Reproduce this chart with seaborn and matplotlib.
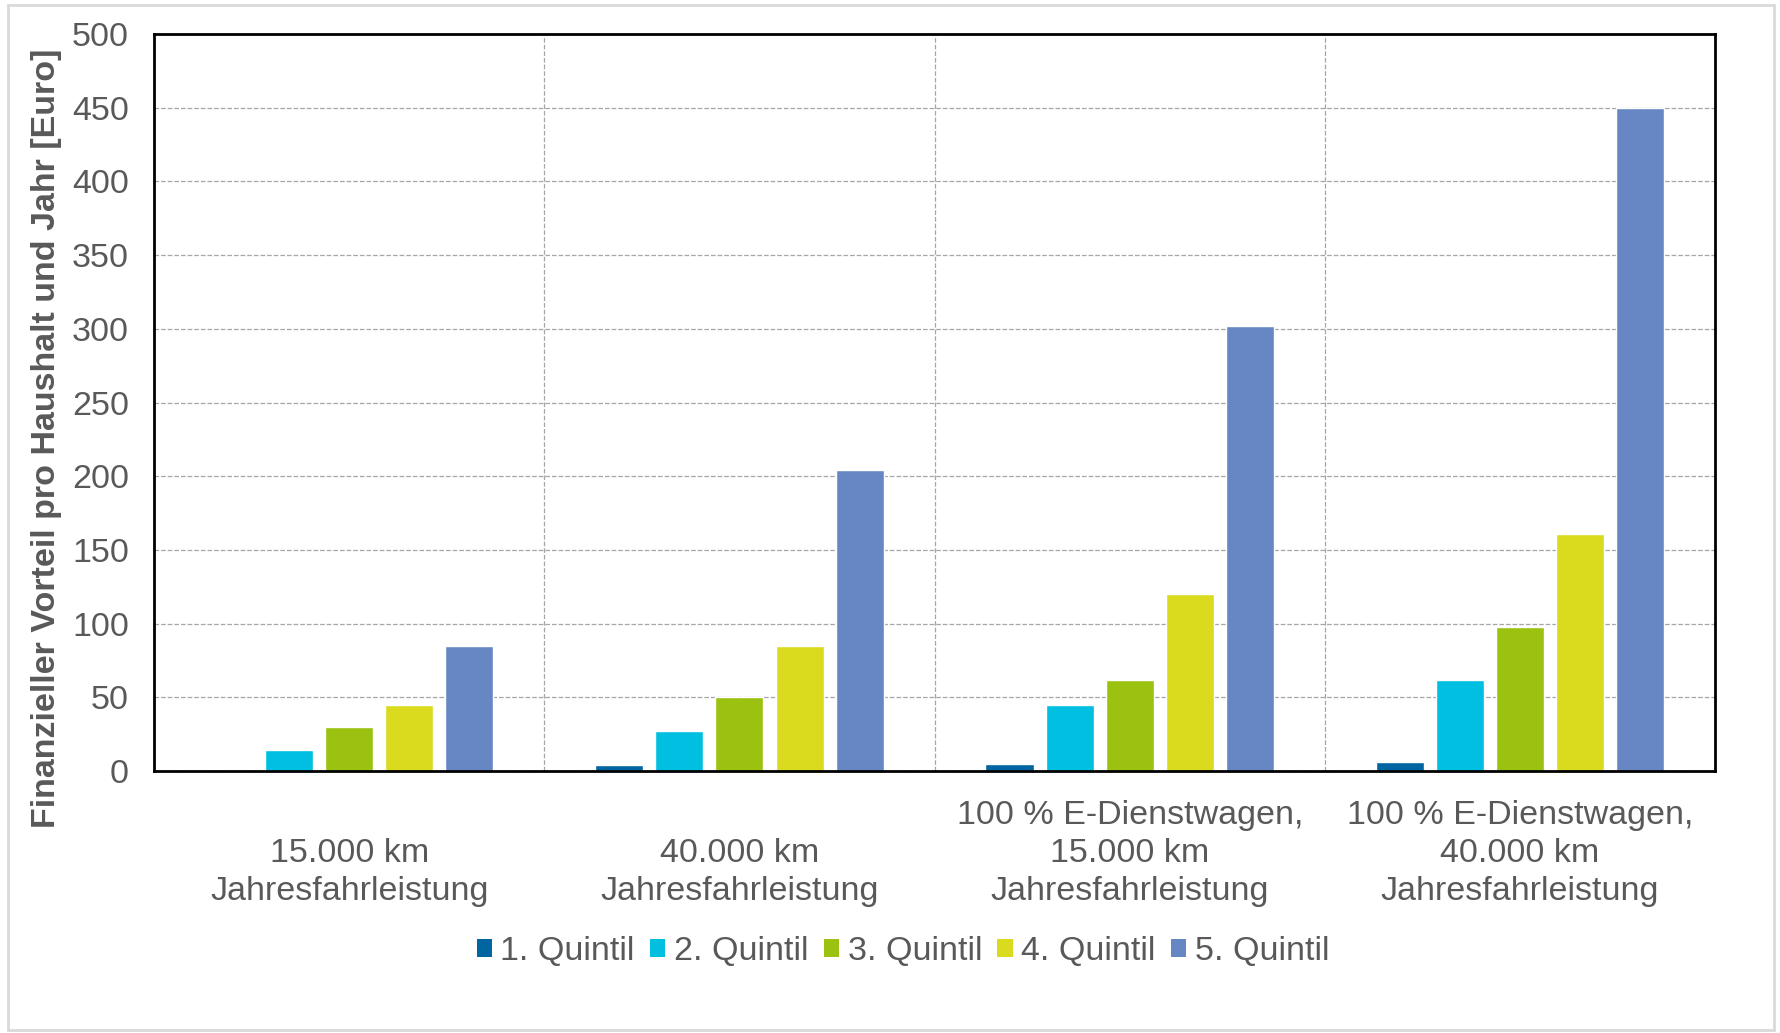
import pandas as pd
import matplotlib.pyplot as plt
import seaborn as sns
from matplotlib.patches import Patch, Rectangle

# Daten
szenarien = ["15.000 km\nJahresfahrleistung",
             "40.000 km\nJahresfahrleistung",
             "100 % E-Dienstwagen,\n15.000 km\nJahresfahrleistung",
             "100 % E-Dienstwagen,\n40.000 km\nJahresfahrleistung"]
quintile = ["1. Quintil", "2. Quintil", "3. Quintil", "4. Quintil", "5. Quintil"]
q1 = [0, 4, 5, 6]
q2 = [14, 27, 45, 62]
q3 = [30, 50, 62, 98]
q4 = [45, 85, 120, 161]
q5 = [85, 204, 302, 450]
farben = ["#0065A0", "#00BFE0", "#9BC210", "#DADA1E", "#6787C4"]

rows = []
for q, werte in zip(quintile, [q1, q2, q3, q4, q5]):
    for s, v in zip(szenarien, werte):
        rows.append({"Szenario": s, "Quintil": q, "Wert": v})
df = pd.DataFrame(rows)

sns.set_theme(style="white")
plt.rcParams["font.family"] = ["Liberation Sans", "DejaVu Sans"]
grau = "#595959"
fs = 24.5

fig = plt.figure(figsize=(17.81, 10.33), dpi=100)
ax = fig.add_axes([0.0865, 0.2537, 0.8765, 0.7133])

sns.barplot(data=df, x="Szenario", y="Wert", hue="Quintil", order=szenarien,
            hue_order=quintile, palette=farben, width=0.77, gap=0.2,
            saturation=1, legend=False, ax=ax)

ax.set_ylim(0, 500)
ax.set_xlim(-0.5, 3.5)
ax.set_yticks(range(0, 501, 50))
ax.set_xticks([0.5, 1.5, 2.5], minor=True)
ax.grid(axis="y", which="major", linestyle="--", color="#A6A6A6", linewidth=0.9)
ax.grid(axis="x", which="minor", linestyle="--", color="#A6A6A6", linewidth=0.9)
ax.grid(axis="x", which="major", visible=False)
ax.set_axisbelow(True)
for sp in ax.spines.values():
    sp.set_color("black")
    sp.set_linewidth(2)

# zweizeilige Labels unten bündig
labels = [("\n" + s) if s.count("\n") == 1 else s for s in szenarien]
ax.set_xticks(range(4))
ax.set_xticklabels(labels, fontsize=fs, color=grau, linespacing=1.3)
ax.tick_params(axis="x", which="both", length=0, pad=21)
ax.tick_params(axis="y", length=0, pad=18, labelsize=fs, labelcolor=grau)

ax.set_xlabel("")
ax.set_ylabel("Finanzieller Vorteil pro Haushalt und Jahr [Euro]", fontsize=fs,
              fontweight="bold", color=grau)
ax.yaxis.set_label_coords(-0.059, 0.451)

handles = [Patch(facecolor=c, edgecolor="none") for c in farben]
fig.legend(handles, quintile, loc="center", bbox_to_anchor=(0.507, 0.079), ncol=5,
           frameon=False, fontsize=fs, labelcolor=grau, handlelength=0.45,
           handleheight=0.45, handletextpad=0.25, columnspacing=0.45)

fig.add_artist(Rectangle((0.0045, 0.003), 0.9915, 0.992, transform=fig.transFigure,
                         fill=False, edgecolor="#D9D9D9", linewidth=2))

plt.savefig("out.png", dpi=100)
